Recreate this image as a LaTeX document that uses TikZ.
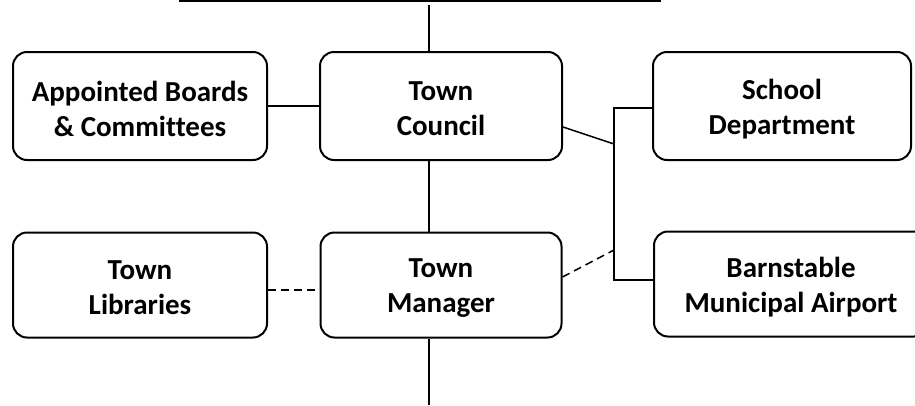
\documentclass[tikz,border=0pt]{standalone}
\usepackage{fontspec}
\setmainfont{Carlito}[Ligatures=NoCommon]
\begin{document}
\begin{tikzpicture}[x=1pt,y=-1pt,
  box/.style={draw=black,line width=2pt,rounded corners=14pt,inner sep=0pt},
  lbl/.style={align=center,font=\fontsize{29}{35}\selectfont\bfseries,inner sep=0pt,yshift=-3pt},
  conn/.style={draw=black,line width=1.5pt},
  dashconn/.style={conn,dash pattern=on 8pt off 5pt}]
\useasboundingbox (0,0) rectangle (915,405);
\node[box,minimum width=254pt,minimum height=108pt,label={[lbl]center:{Appointed Boards\\\& Committees}}] (ab) at (140,106) {};
\node[box,minimum width=242pt,minimum height=108pt,label={[lbl]center:{Town\\Council}}] (tc) at (441,106) {};
\node[box,minimum width=258pt,minimum height=108pt,label={[lbl]center:{School\\Department}}] (sd) at (782,106) {};
\node[box,minimum width=254pt,minimum height=105pt,label={[lbl]center:{Town\\Libraries}}] (tl) at (140,285) {};
\node[box,minimum width=241pt,minimum height=105pt,label={[lbl]center:{Town\\Manager}}] (tm) at (441,285) {};
\node[box,minimum width=274pt,minimum height=105pt,label={[lbl]center:{Barnstable\\Municipal Airport}}] (ap) at (791,284) {};
\coordinate (tl0) at (179,1);
\coordinate (tr0) at (661,1);
\coordinate (topc) at (429,5);
\coordinate (botc) at (429,405);
\coordinate (j1) at (614,108);
\coordinate (j2) at (614,280);
\coordinate (jc) at (614,144);
\coordinate (jm) at (614,250);
\draw[line width=2pt] (tl0) -- (tr0);
\draw[conn] (topc) -- (topc |- tc.north);
\draw[conn] (ab.east) -- (tc.west);
\draw[conn] (topc |- tc.south) -- (topc |- tm.north);
\draw[conn] (botc |- tm.south) -- (botc);
\draw[dashconn] ([yshift=-5pt]tl.east) -- ([yshift=-5pt]tm.west);
\draw[conn] (j1 -| sd.west) -- (j1) -- (j2) -- (j2 -| ap.west);
\draw[conn] ([yshift=-21pt]tc.east) -- (jc);
\draw[dashconn] ([yshift=8pt]tm.east) -- (jm);
\end{tikzpicture}
\end{document}
